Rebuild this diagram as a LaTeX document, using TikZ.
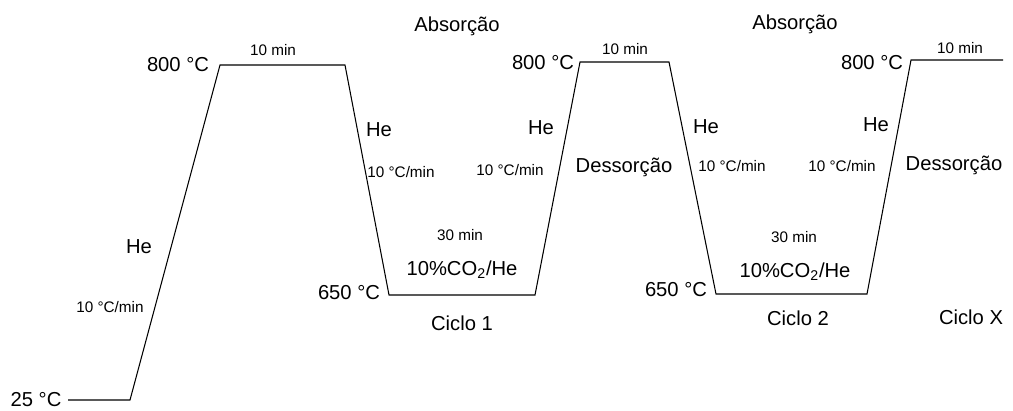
\documentclass[tikz,border=0pt]{standalone}
\usepackage{fontspec}
\setmainfont{Liberation Sans}
\begin{document}
\begin{tikzpicture}[x=0.02cm,y=-0.02cm,
		grande/.style={font=\fontsize{11.5}{13}\selectfont,inner sep=0pt},
		pequeno/.style={font=\fontsize{8.7}{10}\selectfont,inner sep=0pt},
		rampa/.style={draw,line width=0.6pt,line join=miter}
		]
	\useasboundingbox (0,0) rectangle (1013,410);

	% Programa de temperatura
	% ----------------------

		% Aquecimento inicial
		\coordinate (ini) at (68,400);
		\coordinate (aq) at (130,400);
		\coordinate (topoA) at (220,65);
		\coordinate (topoB) at (345,65);

		% Ciclo 1
		\coordinate (baseA) at (389,295);
		\coordinate (baseB) at (535,295);
		\coordinate (topoC) at (580,62);
		\coordinate (topoD) at (669,62);

		% Ciclo 2
		\coordinate (baseC) at (716,294);
		\coordinate (baseD) at (867,294);
		\coordinate (topoE) at (911,60);
		\coordinate (fim) at (1003,60);

		\draw[rampa] (ini) -- (aq) -- (topoA) -- (topoB) -- (baseA) -- (baseB)
			-- (topoC) -- (topoD) -- (baseC) -- (baseD) -- (topoE) -- (fim);

	% Temperaturas
	% ----------------------
	\node[grande] (t25) at (36,400) {25 °C};
	\node[grande] (t800a) at (178,65) {800 °C};
	\node[grande] (t650a) at (349,293) {650 °C};
	\node[grande] (t800b) at (543,63) {800 °C};
	\node[grande] (t650b) at (676,290) {650 °C};
	\node[grande] (t800c) at (872,63) {800 °C};

	% Tempos e taxas
	% ----------------------
	\node[pequeno] (tempoA) at (273,50) {10 min};
	\node[pequeno] (tempoB) at (625,49) {10 min};
	\node[pequeno] (tempoC) at (960,48) {10 min};
	\node[pequeno] (tempo30a) at (460,235) {30 min};
	\node[pequeno] (tempo30b) at (794,237) {30 min};

	\node[pequeno] (taxaA) at (110,307) {10 °C/min};
	\node[pequeno] (taxaB) at (401,172) {10 °C/min};
	\node[pequeno] (taxaC) at (510,170) {10 °C/min};
	\node[pequeno] (taxaD) at (732,166) {10 °C/min};
	\node[pequeno] (taxaE) at (842,166) {10 °C/min};

	% Gases
	% ----------------------
	\node[grande] (heA) at (139,247) {He};
	\node[grande] (heB) at (379,130) {He};
	\node[grande] (heC) at (541,128) {He};
	\node[grande] (heD) at (706,127) {He};
	\node[grande] (heE) at (876,125) {He};
	\node[grande] (co2a) at (462,270) {10\%CO\textsubscript{2}/He};
	\node[grande] (co2b) at (795,272) {10\%CO\textsubscript{2}/He};

	% Etapas e ciclos
	% ----------------------
	\node[grande] (absA) at (457,26) {Absorção};
	\node[grande] (absB) at (795,24) {Absorção};
	\node[grande] (desA) at (624,167) {Dessorção};
	\node[grande] (desB) at (954,165) {Dessorção};
	\node[grande] (cicloA) at (462,323) {Ciclo 1};
	\node[grande] (cicloB) at (798,318) {Ciclo 2};
	\node[grande] (cicloX) at (971,317) {Ciclo X};

\end{tikzpicture}
\end{document}
